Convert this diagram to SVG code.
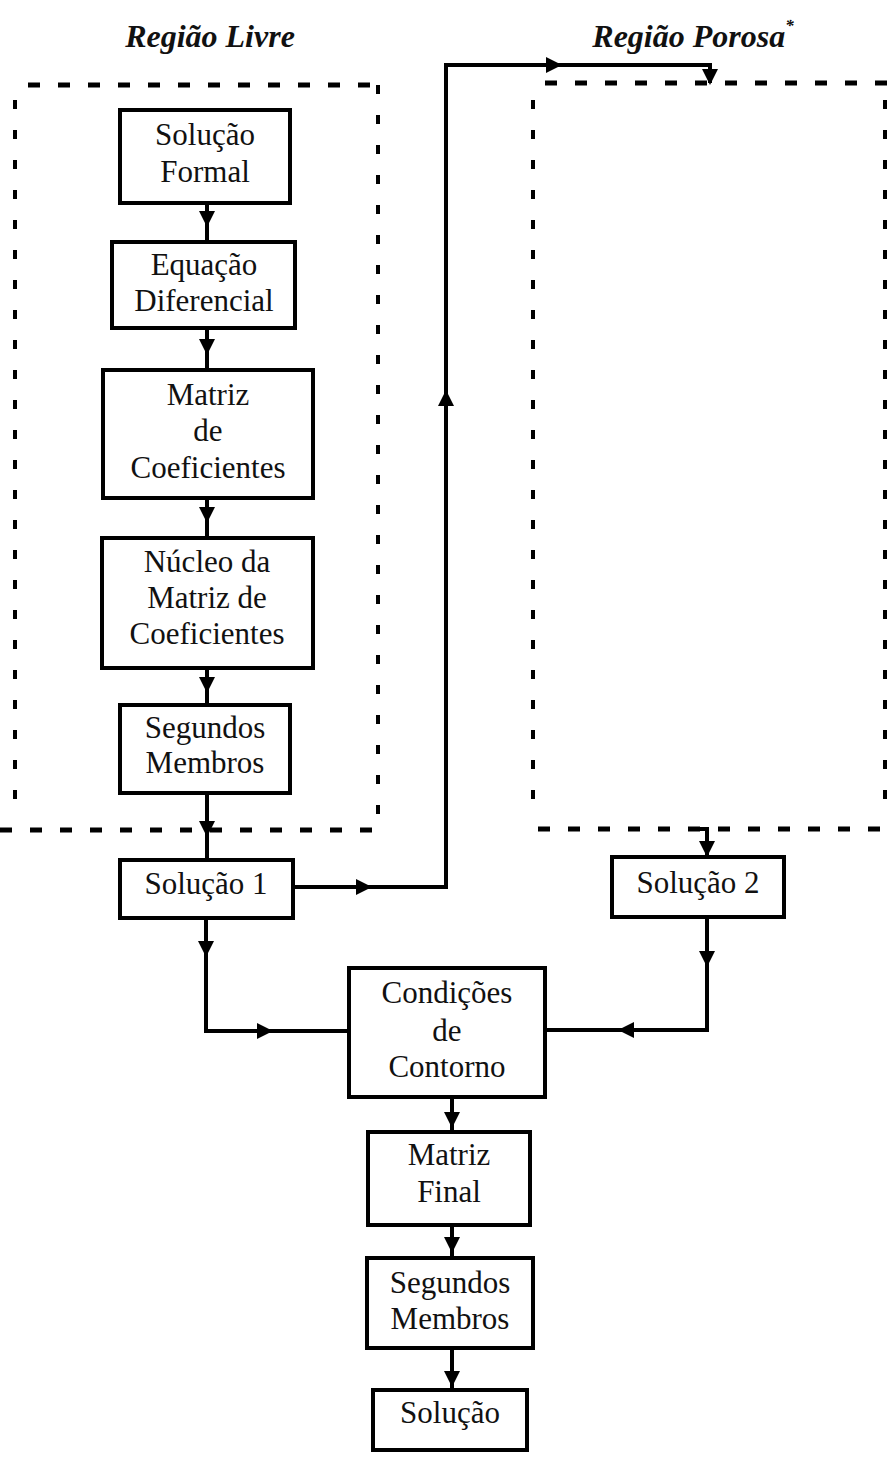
<svg xmlns="http://www.w3.org/2000/svg" width="887" height="1464" viewBox="0 0 887 1464">
<style>
.box{fill:#fff;stroke:#000;stroke-width:4}
.t{font-family:"Liberation Serif","Times New Roman",serif;font-size:31px;fill:#111;text-anchor:middle}
.h{font-family:"Liberation Serif","Times New Roman",serif;font-size:32px;font-weight:bold;font-style:italic;fill:#111;text-anchor:middle}
.dh{fill:none;stroke:#000;stroke-width:5;stroke-dasharray:12 18}
.dv{fill:none;stroke:#000;stroke-width:4;stroke-dasharray:9 21}
.c{fill:none;stroke:#000;stroke-width:4}
</style>
<defs>
<path id="ah" d="M0,0 L-8,-16 L8,-16 Z" fill="#000"/>
</defs>
<rect width="887" height="1464" fill="#fff"/>

<g id="headers">
<text class="h" x="210" y="47">Região Livre</text>
<text class="h" x="693" y="47">Região Porosa<tspan font-size="17" dy="-16">*</tspan></text>
</g>

<g id="regions">
<path class="dh" d="M28,85 H380"/>
<path class="dv" d="M378,85 V830"/>
<path class="dv" d="M15,100 V820"/>
<path class="dh" d="M0,830 H380"/>
<path class="dh" d="M545,83 H887"/>
<path class="dv" d="M533,100 V820"/>
<path class="dv" d="M885,100 V820"/>
<path class="dh" d="M538,829 H887"/>
</g>

<g id="connectors">
<path class="c" d="M207,203 V242"/>
<path class="c" d="M207,328 V370"/>
<path class="c" d="M207,498 V538"/>
<path class="c" d="M207,668 V705"/>
<path class="c" d="M207,793 V860"/>
<path class="c" d="M293,887 H446 V65 H710 V83"/>
<path class="c" d="M206,918 V1031 H349"/>
<path class="c" d="M700,829 H707 V857"/>
<path class="c" d="M707,917 V1030 H545"/>
<path class="c" d="M452,1097 V1132"/>
<path class="c" d="M452,1225 V1258"/>
<path class="c" d="M452,1348 V1390"/>
<use href="#ah" transform="translate(207,227)"/>
<use href="#ah" transform="translate(207,355)"/>
<use href="#ah" transform="translate(207,523)"/>
<use href="#ah" transform="translate(207,693)"/>
<use href="#ah" transform="translate(207,837)"/>
<use href="#ah" transform="translate(372,887) rotate(-90)"/>
<use href="#ah" transform="translate(446,390) rotate(180)"/>
<use href="#ah" transform="translate(562,65) rotate(-90)"/>
<use href="#ah" transform="translate(710,85)"/>
<use href="#ah" transform="translate(206,957)"/>
<use href="#ah" transform="translate(273,1031) rotate(-90)"/>
<use href="#ah" transform="translate(707,857)"/>
<use href="#ah" transform="translate(707,967)"/>
<use href="#ah" transform="translate(618,1030) rotate(90)"/>
<use href="#ah" transform="translate(452,1128)"/>
<use href="#ah" transform="translate(452,1253)"/>
<use href="#ah" transform="translate(452,1387)"/>
</g>

<g id="n1"><rect class="box" x="120" y="110" width="170" height="93"/>
<text class="t" x="205" y="145">Solução</text><text class="t" x="205" y="182">Formal</text></g>
<g id="n2"><rect class="box" x="112" y="242" width="183" height="86"/>
<text class="t" x="204" y="275">Equação</text><text class="t" x="204" y="311">Diferencial</text></g>
<g id="n3"><rect class="box" x="103" y="370" width="210" height="128"/>
<text class="t" x="208" y="405">Matriz</text><text class="t" x="208" y="441">de</text><text class="t" x="208" y="478">Coeficientes</text></g>
<g id="n4"><rect class="box" x="102" y="538" width="211" height="130"/>
<text class="t" x="207" y="572">Núcleo da</text><text class="t" x="207" y="608">Matriz de</text><text class="t" x="207" y="644">Coeficientes</text></g>
<g id="n5"><rect class="box" x="120" y="705" width="170" height="88"/>
<text class="t" x="205" y="738">Segundos</text><text class="t" x="205" y="773">Membros</text></g>
<g id="n6"><rect class="box" x="120" y="860" width="173" height="58"/>
<text class="t" x="206" y="894">Solução 1</text></g>
<g id="n7"><rect class="box" x="612" y="857" width="172" height="60"/>
<text class="t" x="698" y="893">Solução 2</text></g>
<g id="n8"><rect class="box" x="349" y="968" width="196" height="129"/>
<text class="t" x="447" y="1003">Condições</text><text class="t" x="447" y="1041">de</text><text class="t" x="447" y="1077">Contorno</text></g>
<g id="n9"><rect class="box" x="368" y="1132" width="162" height="93"/>
<text class="t" x="449" y="1165">Matriz</text><text class="t" x="449" y="1202">Final</text></g>
<g id="n10"><rect class="box" x="367" y="1258" width="166" height="90"/>
<text class="t" x="450" y="1293">Segundos</text><text class="t" x="450" y="1329">Membros</text></g>
<g id="n11"><rect class="box" x="373" y="1390" width="154" height="60"/>
<text class="t" x="450" y="1423">Solução</text></g>
</svg>
